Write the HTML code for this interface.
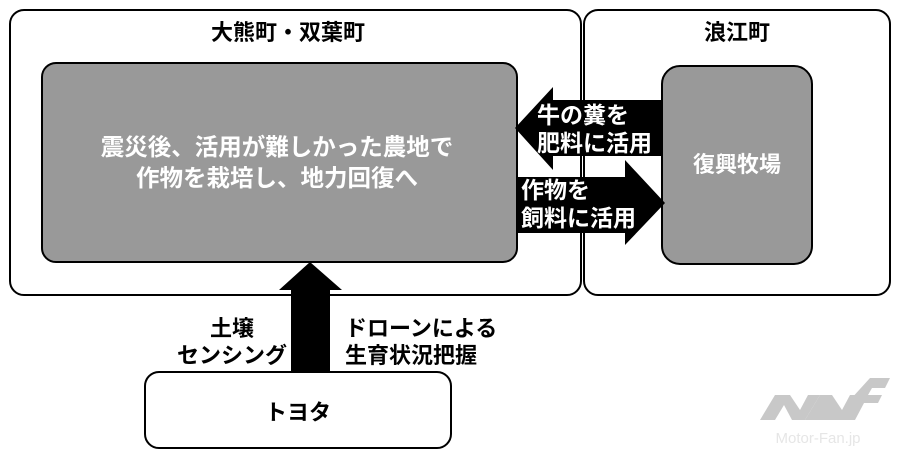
<!DOCTYPE html>
<html><head><meta charset="utf-8"><style>
body{margin:0;background:#fff;}
svg text{font-family:"Liberation Sans","Noto Sans CJK JP",sans-serif;font-weight:bold;}
</style></head><body>
<svg width="900" height="458" viewBox="0 0 900 458">
<rect x="10" y="10" width="571" height="285" rx="14" fill="#fff" stroke="#000" stroke-width="2"/>
<rect x="584" y="10" width="306" height="285" rx="14" fill="#fff" stroke="#000" stroke-width="2"/>
<rect x="42" y="63" width="475" height="199" rx="14" fill="#999" stroke="#000" stroke-width="2"/>
<rect x="662" y="66" width="150" height="198" rx="18" fill="#999" stroke="#000" stroke-width="2"/>
<text x="288" y="40" font-size="22" text-anchor="middle">大熊町・双葉町</text>
<text x="737" y="40" font-size="22" text-anchor="middle">浪江町</text>
<text x="277" y="155" font-size="23.5" fill="#fff" text-anchor="middle">震災後、活用が難しかった農地で</text>
<text x="277" y="186" font-size="23.5" fill="#fff" text-anchor="middle">作物を栽培し、地力回復へ</text>
<text x="737" y="172" font-size="22" fill="#fff" text-anchor="middle">復興牧場</text>
<polygon points="515,128 553,87 553,100 662,100 662,156 553,156 553,170" fill="#000"/>
<polygon points="665,203 625,160 625,177 517,177 517,233 625,233 625,245" fill="#000"/>
<text x="537" y="123" font-size="23" fill="#fff">牛の糞を</text>
<text x="537" y="151" font-size="23" fill="#fff">肥料に活用</text>
<text x="521" y="198" font-size="23" fill="#fff">作物を</text>
<text x="521" y="226" font-size="23" fill="#fff">飼料に活用</text>
<polygon points="310,262 342,290 330,290 330,373 291,373 291,290 279,290" fill="#000"/>
<text x="232" y="336" font-size="22" text-anchor="middle">土壌</text>
<text x="232" y="363" font-size="22" text-anchor="middle">センシング</text>
<text x="345" y="336" font-size="22">ドローンによる</text>
<text x="345" y="363" font-size="22">生育状況把握</text>
<rect x="145" y="372" width="306" height="76" rx="14" fill="#fff" stroke="#000" stroke-width="2"/>
<text x="298" y="420" font-size="22" text-anchor="middle">トヨタ</text>
<g fill="#c8c8c8">
<polygon points="760,420 775,395 790,395 800,410 808,395 820,395 805,420 792,420 784,405 775,420"/>
<polygon points="805,420 820,395 832,395 842,410 850,395 862,395 847,420"/>
<polygon points="850,400 870,378 890,378 885,388 872,388 868,395 882,395 878,403 864,403 855,420 845,420"/>
</g>
<text x="818" y="443" font-size="15" fill="#e6e6e6" text-anchor="middle" style="font-weight:normal">Motor-Fan.jp</text>
</svg>
</body></html>
